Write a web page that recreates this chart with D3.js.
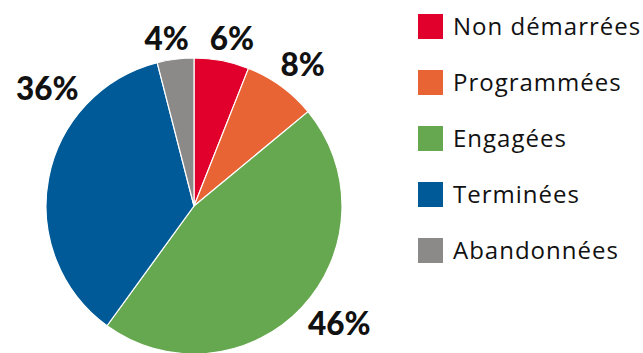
<!DOCTYPE html>
<html>
<head>
<meta charset="utf-8">
<script src="https://cdn.jsdelivr.net/npm/d3@7"></script>
<style>
  html, body { margin: 0; padding: 0; background: #fff; }
  svg { display: block; }
</style>
</head>
<body>
<svg id="chart" width="643" height="353"></svg>
<script>
// Statut des actions (part en %)
const categories = ["Non démarrées", "Programmées", "Engagées", "Terminées", "Abandonnées"];
const values = [6, 8, 46, 36, 4];
const colors = ["#e0002b", "#e86434", "#66a850", "#005a98", "#8c8a89"];

// Placement of the percentage labels around the pie (angle in degrees from 12 o'clock, distance from centre)
const labelAngles = [12.7, 37.6, 129.0, -51.3, -9.3];
const labelRadii = [172, 178, 187, 188, 170];

const W = 643, H = 353;
const cx = 194, cy = 206, R = 148;

const svg = d3.select("#chart");

const pie = d3.pie().sort(null).value(d => d.value);
const data = categories.map((c, i) => ({ name: c, value: values[i], color: colors[i] }));
const arcs = pie(data);
const arc = d3.arc().innerRadius(0).outerRadius(R);

const g = svg.append("g").attr("transform", `translate(${cx},${cy})`);

g.selectAll("path.slice")
  .data(arcs)
  .join("path")
  .attr("class", "slice")
  .attr("d", arc)
  .attr("fill", d => d.data.color)
  .attr("stroke", "#fff")
  .attr("stroke-width", 1.2)
  .attr("stroke-linejoin", "round");

g.selectAll("text.pct")
  .data(arcs)
  .join("text")
  .attr("class", "pct")
  .attr("x", (d, i) => labelRadii[i] * Math.sin(labelAngles[i] * Math.PI / 180))
  .attr("y", (d, i) => -labelRadii[i] * Math.cos(labelAngles[i] * Math.PI / 180))
  .attr("dy", "0.36em")
  .attr("text-anchor", "middle")
  .attr("font-family", "Lato, 'Open Sans', sans-serif")
  .attr("font-weight", 900)
  .attr("font-size", 31.5)
  .attr("fill", "#111")
  .text(d => d.data.value + "%");

// Legend
const legend = svg.append("g").attr("transform", "translate(418,0)");
const row = d3.scalePoint().domain(categories).range([26.5, 250.5]);

const items = legend.selectAll("g.item")
  .data(data)
  .join("g")
  .attr("class", "item")
  .attr("transform", d => `translate(0,${row(d.name)})`);

items.append("rect")
  .attr("x", 0)
  .attr("y", -12.5)
  .attr("width", 25)
  .attr("height", 25)
  .attr("fill", d => d.color);

items.append("text")
  .attr("x", 35)
  .attr("y", 8.5)
  .attr("font-family", "'Open Sans', Lato, sans-serif")
  .attr("font-size", 24)
  .attr("letter-spacing", 1.0)
  .attr("fill", "#111")
  .text(d => d.name);
</script>
</body>
</html>
